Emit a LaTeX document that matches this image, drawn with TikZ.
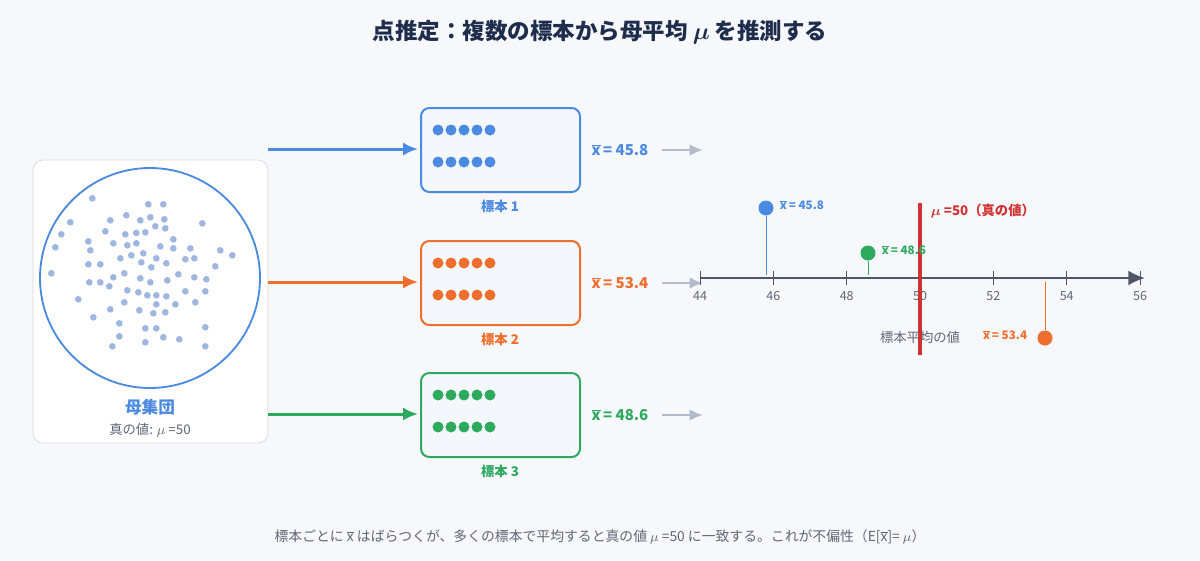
\documentclass[tikz,border=0pt]{standalone}
\usepackage{amsmath}
\usepackage{fontspec}
\setmainfont{Noto Sans CJK JP}
\usetikzlibrary{arrows.meta}
\definecolor{bgc}{HTML}{F7F8FC}
\definecolor{navy}{HTML}{1F2D4D}
\definecolor{cblue}{HTML}{4A8AE0}
\definecolor{corange}{HTML}{EE6E2E}
\definecolor{cgreen}{HTML}{2EAA5E}
\definecolor{cred}{HTML}{D03232}
\definecolor{cgray}{HTML}{5F6675}
\definecolor{cdot}{HTML}{9FB6E0}
\definecolor{cpale}{HTML}{B3BACB}
\definecolor{caxis}{HTML}{4E5668}
\newcommand{\xbar}{$\overline{\mbox{x}}$}
\tikzset{
  samplebox/.style={draw=#1, line width=1.2pt, rounded corners=5pt, fill=cblue!6},
  feed/.style={-{Latex[length=9pt,width=8pt]}, line width=1.8pt, #1},
  next/.style={-{Latex[length=8pt,width=7pt]}, line width=1.6pt, cpale},
  mean/.style={font=\fontsize{9}{11}\selectfont\bfseries, text=#1},
  tiny/.style={font=\fontsize{7}{8}\selectfont\bfseries, text=#1},
}
\begin{document}
\begin{tikzpicture}[x=0.6pt, y=-0.6pt]
  \fill[bgc] (0,0) rectangle (1200,560);

  % --- タイトル ---
  \node[font=\fontsize{13.5}{16}\selectfont\bfseries, text=navy] (title) at (600,32)
    {点推定：複数の標本から母平均 $\boldsymbol{\mu}$ を推測する};

  % --- 母集団 ---
  \draw[fill=white, draw=black!15, rounded corners=6pt] (33,160) rectangle (268,443);
  \draw[cblue, line width=1.1pt] (150,278) circle [radius=110];
  \begin{scope}[shift={(30,160)}, x=0.2pt, y=-0.2pt]
    \foreach \p in {(187,115),(355,133),(400,133),(121,187),(241,181),(289,166),(331,181),
      (361,172),(403,178),(517,190),(94,223),(226,214),(286,223),(319,219),(346,217),
      (376,199),(406,205),(76,262),(175,244),(181,271),(250,250),(292,256),(319,250),
      (391,259),(430,238),(430,265),(481,265),(571,271),(607,286),(64,340),(175,313),
      (211,313),(271,295),(304,286),(340,280),(334,307),(379,295),(364,322),(409,310),
      (466,298),(493,295),(556,319),(178,367),(211,367),(238,379),(250,352),(283,340),
      (331,355),(361,367),(412,361),(445,343),(493,352),(529,358),(145,418),(292,391),
      (325,397),(352,406),(379,406),(409,409),(466,394),(526,394),(283,427),(241,448),
      (328,451),(370,460),(379,433),(406,457),(436,433),(496,427),(190,472),(268,490),
      (346,505),(379,505),(526,502),(268,529),(400,532),(448,538),(247,559),(346,547),
      (526,559)}
      \fill[cdot] \p circle [radius=10];
  \end{scope}
  \node[font=\fontsize{10}{12}\selectfont\bfseries, text=cblue] (pop) at (150,407) {母集団};
  \node[font=\fontsize{8}{10}\selectfont, text=cgray] (popmu) at (150,430) {真の値: $\mu$ =50};

  % --- 標本 ---
  \foreach \i/\y/\c/\v in {1/150/cblue/45.8, 2/283/corange/53.4, 3/415/cgreen/48.6} {
    \coordinate (src\i) at (268,\y-1);
    \coordinate (dst\i) at (418,\y-1);
    \draw[feed=\c] (src\i) -- (dst\i);
    \draw[samplebox=\c] (421,\y-42) rectangle (580,\y+42);
    \foreach \k in {0,...,4} {
      \fill[\c] (438+\k*13,\y-20) circle [radius=5.5];
      \fill[\c] (438+\k*13,\y+12) circle [radius=5.5];
    }
    \node[tiny=\c, font=\fontsize{8}{10}\selectfont\bfseries] (lab\i) at (500,\y+56) {標本 \i};
    \node[mean=\c] (mean\i) at (620,\y) {\xbar\,= \v};
    \coordinate (a\i) at (662,\y);
    \coordinate (b\i) at (703,\y);
    \draw[next] (a\i) -- (b\i);
  }

  % --- 数直線 ---
  \coordinate (ax0) at (700,278);
  \coordinate (ax1) at (1145,278);
  \draw[caxis, line width=1.5pt, -{Latex[length=10pt,width=9pt]}] (ax0) -- (ax1);
  \foreach \n in {44,46,...,56} {
    \draw[caxis] ({700+(\n-44)*36.67},271) -- ({700+(\n-44)*36.67},285);
    \node[font=\fontsize{7.5}{9}\selectfont, text=cgray] at ({700+(\n-44)*36.67},296) {\n};
  }
  \node[font=\fontsize{8}{10}\selectfont, text=cgray] (axlab) at (920,337) {標本平均の値};

  % --- 真の値 ---
  \coordinate (mutop) at (920,203);
  \coordinate (mubot) at (920,355);
  \draw[cred, line width=2pt] (mutop) -- (mubot);
  \node[anchor=west, mean=cred, font=\fontsize{8}{10}\selectfont\bfseries] (mulab) at (925,211)
    {$\boldsymbol{\mu}$ =50（真の値）};

  % --- 各標本平均 ---
  \node[circle, fill=cblue, inner sep=0pt, minimum size=9pt] (p1) at (766,208) {};
  \coordinate (q1) at (766,275);
  \draw[cblue, line width=0.6pt] (p1) -- (q1);
  \node[anchor=west, tiny=cblue] at (774,205) {\xbar\,= 45.8};

  \node[circle, fill=cgreen, inner sep=0pt, minimum size=9pt] (p3) at (868,253) {};
  \coordinate (q3) at (868,275);
  \draw[cgreen, line width=0.6pt] (p3) -- (q3);
  \node[anchor=west, tiny=cgreen] at (876,250) {\xbar\,= 48.6};

  \node[circle, fill=corange, inner sep=0pt, minimum size=9pt] (p2) at (1045,338) {};
  \coordinate (q2) at (1045,282);
  \draw[corange, line width=0.6pt] (p2) -- (q2);
  \node[anchor=east, tiny=corange] at (1033,335) {\xbar\,= 53.4};

  % --- 注記 ---
  \node[font=\fontsize{8.3}{10}\selectfont, text=cgray] (note) at (600,537)
    {標本ごとに \xbar\ はばらつくが、多くの標本で平均すると真の値 $\mu$ =50 に一致する。これが不偏性（E[\xbar]= $\mu$）};
\end{tikzpicture}
\end{document}
